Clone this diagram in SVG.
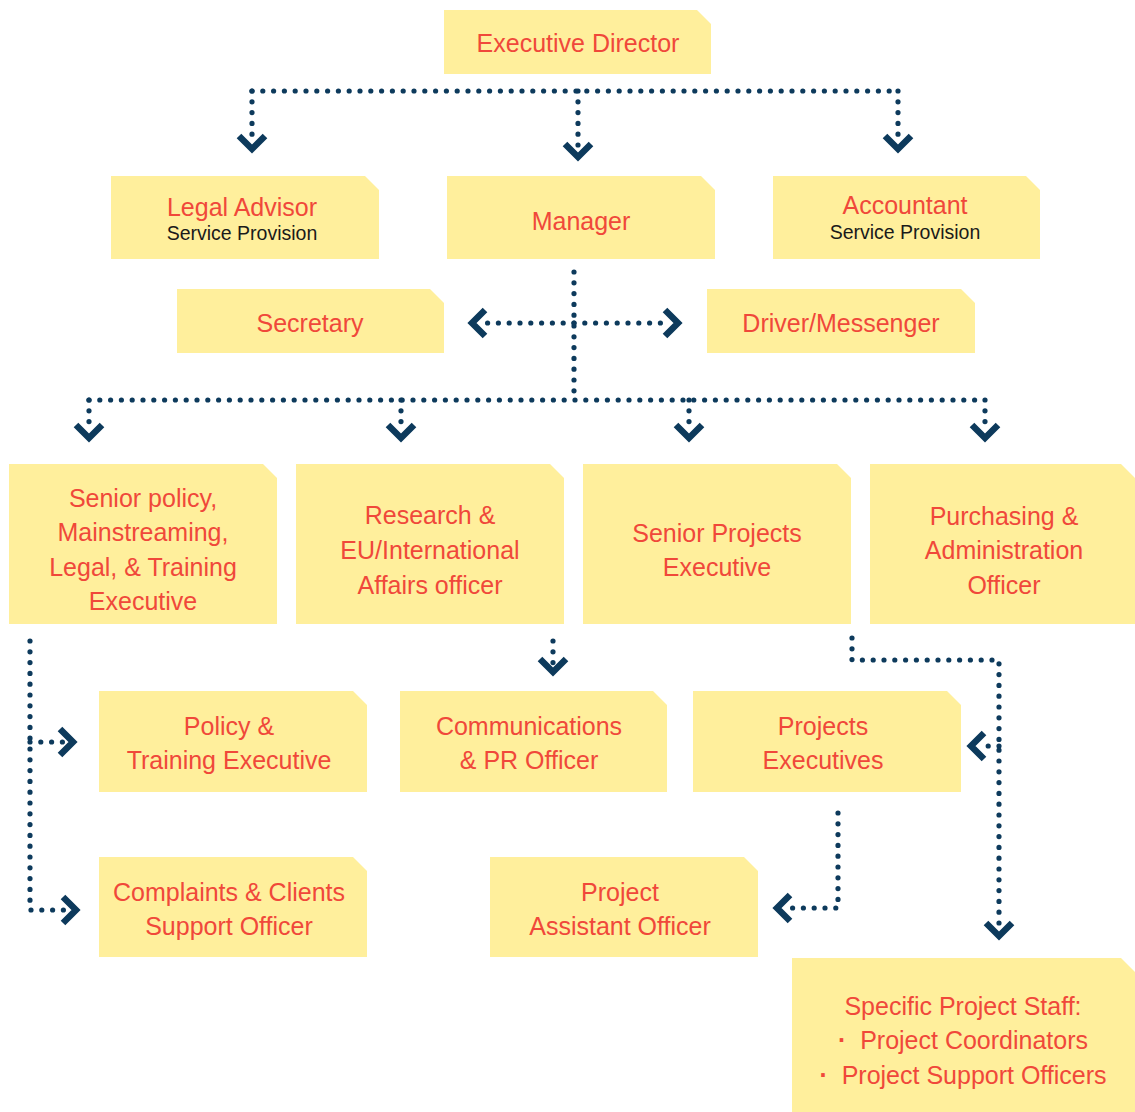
<svg xmlns="http://www.w3.org/2000/svg" width="1135" height="1112" viewBox="0 0 1135 1112">
<style>
.box{fill:#FFEF9C}
.t{font-family:"Liberation Sans",Arial,sans-serif;font-size:25px;fill:#F0483A;text-anchor:middle}
.s{font-family:"Liberation Sans",Arial,sans-serif;font-size:19.5px;fill:#1a1a1a;text-anchor:middle}
.dot{fill:none;stroke:#0D3A5C;stroke-width:5.2;stroke-linecap:round;stroke-dasharray:0 10.8}
.chev{fill:none;stroke:#0D3A5C;stroke-width:6.5;stroke-linejoin:miter;stroke-linecap:butt}
</style>
<rect width="1135" height="1112" fill="#fff"/>
<g id="connectors">
  <path class="dot" d="M252 91 H898"/>
  <path class="dot" d="M252 91 V140"/>
  <path class="dot" d="M578 91 V148"/>
  <path class="dot" d="M898 91 V140"/>
  <polyline class="chev" points="239,136 252,149 265,136"/>
  <polyline class="chev" points="565,144 578,157 591,144"/>
  <polyline class="chev" points="885,136 898,149 911,136"/>
  <path class="dot" d="M574 272 V400"/>
  <path class="dot" d="M574 323 H480"/>
  <path class="dot" d="M574 323 H670"/>
  <polyline class="chev" points="485,310 472,323 485,336"/>
  <polyline class="chev" points="665,310 678,323 665,336"/>
  <path class="dot" d="M89 400 H985"/>
  <path class="dot" d="M89 400 V430"/>
  <path class="dot" d="M401 400 V430"/>
  <path class="dot" d="M689 400 V430"/>
  <path class="dot" d="M985 400 V430"/>
  <polyline class="chev" points="76,425 89,438 102,425"/>
  <polyline class="chev" points="388,425 401,438 414,425"/>
  <polyline class="chev" points="676,425 689,438 702,425"/>
  <polyline class="chev" points="972,425 985,438 998,425"/>
  <path class="dot" d="M30 641 V910 H66"/>
  <path class="dot" d="M30 742 H64"/>
  <polyline class="chev" points="60,729 73,742 60,755"/>
  <polyline class="chev" points="63,897 76,910 63,923"/>
  <path class="dot" d="M553 641 V665"/>
  <polyline class="chev" points="540,659 553,672 566,659"/>
  <path class="dot" d="M852 638 V660 H999 V930"/>
  <path class="dot" d="M999 746 H980"/>
  <polyline class="chev" points="984,733 971,746 984,759"/>
  <polyline class="chev" points="986,923 999,936 1012,923"/>
  <path class="dot" d="M838 813 V908 H786"/>
  <polyline class="chev" points="790,895 777,908 790,921"/>
</g>
<g id="executive-director">
  <path class="box" d="M444 10 H697 L711 24 V74 H444 Z"/>
  <text class="t" x="578" y="52">Executive Director</text>
</g>
<g id="legal-advisor">
  <path class="box" d="M111 176 H365 L379 190 V259 H111 Z"/>
  <text class="t" x="242" y="216">Legal Advisor</text>
  <text class="s" x="242" y="240">Service Provision</text>
</g>
<g id="manager">
  <path class="box" d="M447 176 H701 L715 190 V259 H447 Z"/>
  <text class="t" x="581" y="230">Manager</text>
</g>
<g id="accountant">
  <path class="box" d="M773 176 H1026 L1040 190 V259 H773 Z"/>
  <text class="t" x="905" y="214">Accountant</text>
  <text class="s" x="905" y="239">Service Provision</text>
</g>
<g id="secretary">
  <path class="box" d="M177 289 H430 L444 303 V353 H177 Z"/>
  <text class="t" x="310" y="332">Secretary</text>
</g>
<g id="driver-messenger">
  <path class="box" d="M707 289 H961 L975 303 V353 H707 Z"/>
  <text class="t" x="841" y="332">Driver/Messenger</text>
</g>
<g id="senior-policy">
  <path class="box" d="M9 464 H263 L277 478 V624 H9 Z"/>
  <text class="t" x="143" y="507">Senior policy,</text>
  <text class="t" x="143" y="541">Mainstreaming,</text>
  <text class="t" x="143" y="576">Legal, &amp; Training</text>
  <text class="t" x="143" y="610">Executive</text>
</g>
<g id="research">
  <path class="box" d="M296 464 H550 L564 478 V624 H296 Z"/>
  <text class="t" x="430" y="524">Research &amp;</text>
  <text class="t" x="430" y="559">EU/International</text>
  <text class="t" x="430" y="594">Affairs officer</text>
</g>
<g id="senior-projects">
  <path class="box" d="M583 464 H837 L851 478 V624 H583 Z"/>
  <text class="t" x="717" y="542">Senior Projects</text>
  <text class="t" x="717" y="576">Executive</text>
</g>
<g id="purchasing">
  <path class="box" d="M870 464 H1121 L1135 478 V624 H870 Z"/>
  <text class="t" x="1004" y="525">Purchasing &amp;</text>
  <text class="t" x="1004" y="559">Administration</text>
  <text class="t" x="1004" y="594">Officer</text>
</g>
<g id="policy-training">
  <path class="box" d="M99 691 H353 L367 705 V792 H99 Z"/>
  <text class="t" x="229" y="735">Policy &amp;</text>
  <text class="t" x="229" y="769">Training Executive</text>
</g>
<g id="communications">
  <path class="box" d="M400 691 H653 L667 705 V792 H400 Z"/>
  <text class="t" x="529" y="735">Communications</text>
  <text class="t" x="529" y="769">&amp; PR Officer</text>
</g>
<g id="projects-executives">
  <path class="box" d="M693 691 H947 L961 705 V792 H693 Z"/>
  <text class="t" x="823" y="735">Projects</text>
  <text class="t" x="823" y="769">Executives</text>
</g>
<g id="complaints">
  <path class="box" d="M99 857 H353 L367 871 V957 H99 Z"/>
  <text class="t" x="229" y="901">Complaints &amp; Clients</text>
  <text class="t" x="229" y="935">Support Officer</text>
</g>
<g id="project-assistant">
  <path class="box" d="M490 857 H744 L758 871 V957 H490 Z"/>
  <text class="t" x="620" y="901">Project</text>
  <text class="t" x="620" y="935">Assistant Officer</text>
</g>
<g id="specific-project-staff">
  <path class="box" d="M792 958 H1121 L1135 972 V1112 H792 Z"/>
  <text class="t" x="963" y="1015">Specific Project Staff:</text>
  <text class="t" x="963" y="1049" style="white-space:pre"><tspan font-weight="bold">·</tspan>  Project Coordinators</text>
  <text class="t" x="963" y="1084" style="white-space:pre"><tspan font-weight="bold">·</tspan>  Project Support Officers</text>
</g>
</svg>
